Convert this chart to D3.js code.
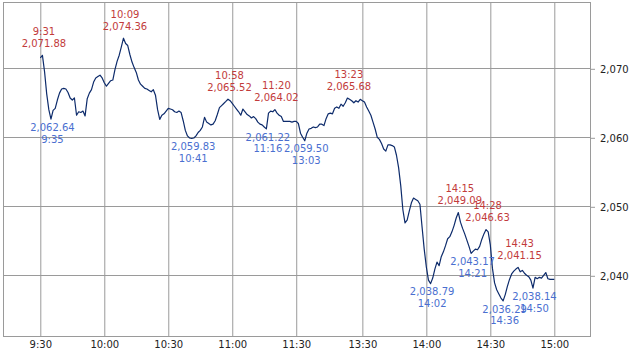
<!DOCTYPE html>
<html>
<head>
<meta charset="utf-8">
<script src="https://cdn.jsdelivr.net/npm/d3@7"></script>
<style>
  body { margin: 0; background: #fff; }
  text { font-family: "DejaVu Sans", Verdana, sans-serif; }
</style>
</head>
<body>
<div id="chart"></div>
<script>
"use strict";
// minute prices, 9:30 - 11:30 (121 values)
const amPrices = [
  2071.5, 2071.88, 2069.5, 2066.3, 2064.0, 2062.64, 2063.9, 2064.2, 2065.4, 2066.4,
  2067.0, 2067.1, 2067.0, 2066.5, 2065.7, 2065.4, 2065.7, 2063.2, 2063.7, 2063.6,
  2063.8, 2063.1, 2065.6, 2066.4, 2066.9, 2068.0, 2068.6, 2068.8, 2069.0, 2068.6,
  2067.9, 2067.4, 2067.8, 2068.2, 2068.3, 2069.8, 2071.0, 2071.9, 2073.1, 2074.36,
  2073.6, 2073.3, 2072.0, 2070.9, 2070.1, 2069.4, 2068.3, 2067.7, 2067.4, 2067.1,
  2067.0, 2066.8, 2066.6, 2066.9, 2066.1, 2064.0, 2062.6, 2063.2, 2063.4, 2063.8,
  2064.2, 2064.1, 2064.0, 2063.7, 2063.6, 2063.8, 2063.6, 2062.4, 2061.0, 2060.2,
  2059.9, 2059.83, 2059.9, 2060.2, 2060.7, 2061.0, 2061.5, 2062.9, 2062.2, 2062.0,
  2061.8, 2061.9, 2062.4, 2063.3, 2064.3, 2064.6, 2064.9, 2065.2, 2065.52, 2065.3,
  2064.9, 2064.5, 2064.1, 2063.7, 2063.2, 2064.1, 2063.7, 2063.3, 2063.1, 2062.8,
  2063.0, 2062.7, 2062.2, 2061.9, 2061.8, 2061.5, 2061.22, 2063.5, 2063.8, 2063.7,
  2064.02, 2063.5, 2063.2, 2063.0, 2062.3, 2062.3, 2062.3, 2062.3, 2062.2, 2062.3,
  2062.3
]
// minute prices, 13:00 - 15:00 (121 values)
const pmPrices = [
  2062.0, 2060.6, 2060.0, 2059.50, 2060.6, 2061.2, 2061.3, 2061.5, 2061.4, 2061.5,
  2061.9, 2061.9, 2061.7, 2062.7, 2063.4, 2063.5, 2063.4, 2064.2, 2064.4, 2064.2,
  2064.8, 2064.5, 2065.0, 2065.68, 2065.5, 2065.3, 2065.0, 2065.3, 2065.1, 2065.5,
  2065.3, 2065.1, 2064.4, 2063.8, 2063.2, 2062.2, 2061.2, 2060.0, 2059.7, 2059.1,
  2058.3, 2058.0, 2058.9, 2058.9, 2058.8, 2058.6, 2057.4, 2055.6, 2053.0, 2049.5,
  2047.6, 2048.0, 2049.3, 2050.5, 2051.2, 2051.0, 2050.8, 2050.3, 2047.0, 2043.8,
  2041.2, 2039.3, 2038.79, 2039.6, 2040.9, 2041.9, 2041.4, 2042.7, 2043.4, 2044.3,
  2045.3, 2045.6, 2046.3, 2047.2, 2048.3, 2049.09, 2047.7, 2046.8, 2046.0, 2045.1,
  2044.2, 2043.17, 2043.5, 2043.8, 2043.7, 2044.2, 2045.2, 2046.0, 2046.63, 2046.3,
  2044.4, 2041.0, 2038.9, 2037.9, 2037.3, 2036.7, 2036.29, 2037.2, 2038.4, 2039.4,
  2040.2, 2040.6, 2040.9, 2041.15, 2040.5, 2040.7, 2040.3, 2040.0, 2039.8, 2039.3,
  2038.14, 2039.7, 2039.5, 2039.7, 2039.6, 2040.0, 2040.4, 2039.5, 2039.4, 2039.4,
  2039.4
]
const highTimes = ["9:31", "10:09", "10:58", "11:20", "13:23", "14:15", "14:28", "14:43"]
const highValues = [2071.88, 2074.36, 2065.52, 2064.02, 2065.68, 2049.09, 2046.63, 2041.15]
const lowTimes = ["9:35", "10:41", "11:16", "13:03", "14:02", "14:21", "14:36", "14:50"]
const lowValues = [2062.64, 2059.83, 2061.22, 2059.50, 2038.79, 2043.17, 2036.29, 2038.14]
const xTicks = ["9:30", "10:00", "10:30", "11:00", "11:30", "13:30", "14:00", "14:30", "15:00"]
const yTicks = [2040, 2050, 2060, 2070]

const m = { width: 633, height: 352, left: 3, right: 590, top: 2, bottom: 336 }

// minute index with the lunch break folded out
function timeIndex(t) {
  let p = t.split(':').map(Number)
  let mins = p[0] * 60 + p[1]
  if (mins <= 11 * 60 + 30) return mins - (9 * 60 + 30)
  return 121 + mins - 13 * 60
}

const prices = amPrices.concat(pmPrices)

const x = d3.scaleLinear().domain([0, 241]).range([40.3, 554.3])
const y = d3.scaleLinear().domain([2040, 2070]).range([275.3, 68.3])

const svg = d3.select('#chart').append('svg')
  .attr('width', m.width)
  .attr('height', m.height)

// grid
svg.append('g').selectAll('line')
  .data(xTicks)
  .enter().append('line')
    .attr('x1', d => x(timeIndex(d)) + 0.5)
    .attr('x2', d => x(timeIndex(d)) + 0.5)
    .attr('y1', m.top)
    .attr('y2', m.bottom)
    .attr('stroke', '#9a9a9a')
svg.append('g').selectAll('line')
  .data(yTicks)
  .enter().append('line')
    .attr('x1', m.left)
    .attr('x2', m.right)
    .attr('y1', d => Math.round(y(d)) + 0.5)
    .attr('y2', d => Math.round(y(d)) + 0.5)
    .attr('stroke', '#9a9a9a')

svg.append('rect')
  .attr('x', m.left + 0.5)
  .attr('y', m.top + 0.5)
  .attr('width', m.right - m.left)
  .attr('height', m.bottom - m.top)
  .attr('fill', 'none')
  .attr('stroke', '#9a9a9a')

// axes
const yAxis = svg.append('g')
  .attr('transform', 'translate(' + m.right + ',0.5)')
  .call(d3.axisRight(y).tickValues(yTicks).tickSize(5).tickPadding(5).tickFormat(d3.format(',')))
yAxis.select('.domain').remove()
yAxis.selectAll('line').attr('stroke', '#9a9a9a')
yAxis.selectAll('text').attr('font-size', '10px').attr('fill', '#222').attr('font-family', 'DejaVu Sans')

const xAxis = svg.append('g')
  .attr('transform', 'translate(0,' + m.bottom + ')')
  .call(d3.axisBottom(x).tickValues(xTicks.map(timeIndex)).tickSize(0).tickPadding(5)
    .tickFormat((d, i) => xTicks[i]))
xAxis.select('.domain').remove()
xAxis.selectAll('text').attr('font-size', '10px').attr('fill', '#222').attr('font-family', 'DejaVu Sans')

// price line
const line = d3.line()
  .x((d, i) => x(i))
  .y(d => y(d))
svg.append('path')
  .datum(prices)
  .attr('d', line)
  .attr('fill', 'none')
  .attr('stroke', '#0d2b6b')
  .attr('stroke-width', 1.2)
  .attr('stroke-linejoin', 'round')

// high / low labels
const fmt = d3.format(',.2f')
const highs = svg.append('g').attr('fill', '#c23b3b').attr('font-size', '10px').attr('text-anchor', 'middle')
highTimes.forEach((t, i) => {
  let px = x(timeIndex(t)) + 1.5
  let py = y(highValues[i])
  highs.append('text').attr('x', px).attr('y', py - 20.5).text(t)
  highs.append('text').attr('x', px).attr('y', py - 8.5).text(fmt(highValues[i]))
})
const lows = svg.append('g').attr('fill', '#4a6fd0').attr('font-size', '10px').attr('text-anchor', 'middle')
lowTimes.forEach((t, i) => {
  let px = x(timeIndex(t)) + 1.5
  let py = y(lowValues[i])
  lows.append('text').attr('x', px).attr('y', py + 11.7).text(fmt(lowValues[i]))
  lows.append('text').attr('x', px).attr('y', py + 23.5).text(t)
})
</script>
</body>
</html>
